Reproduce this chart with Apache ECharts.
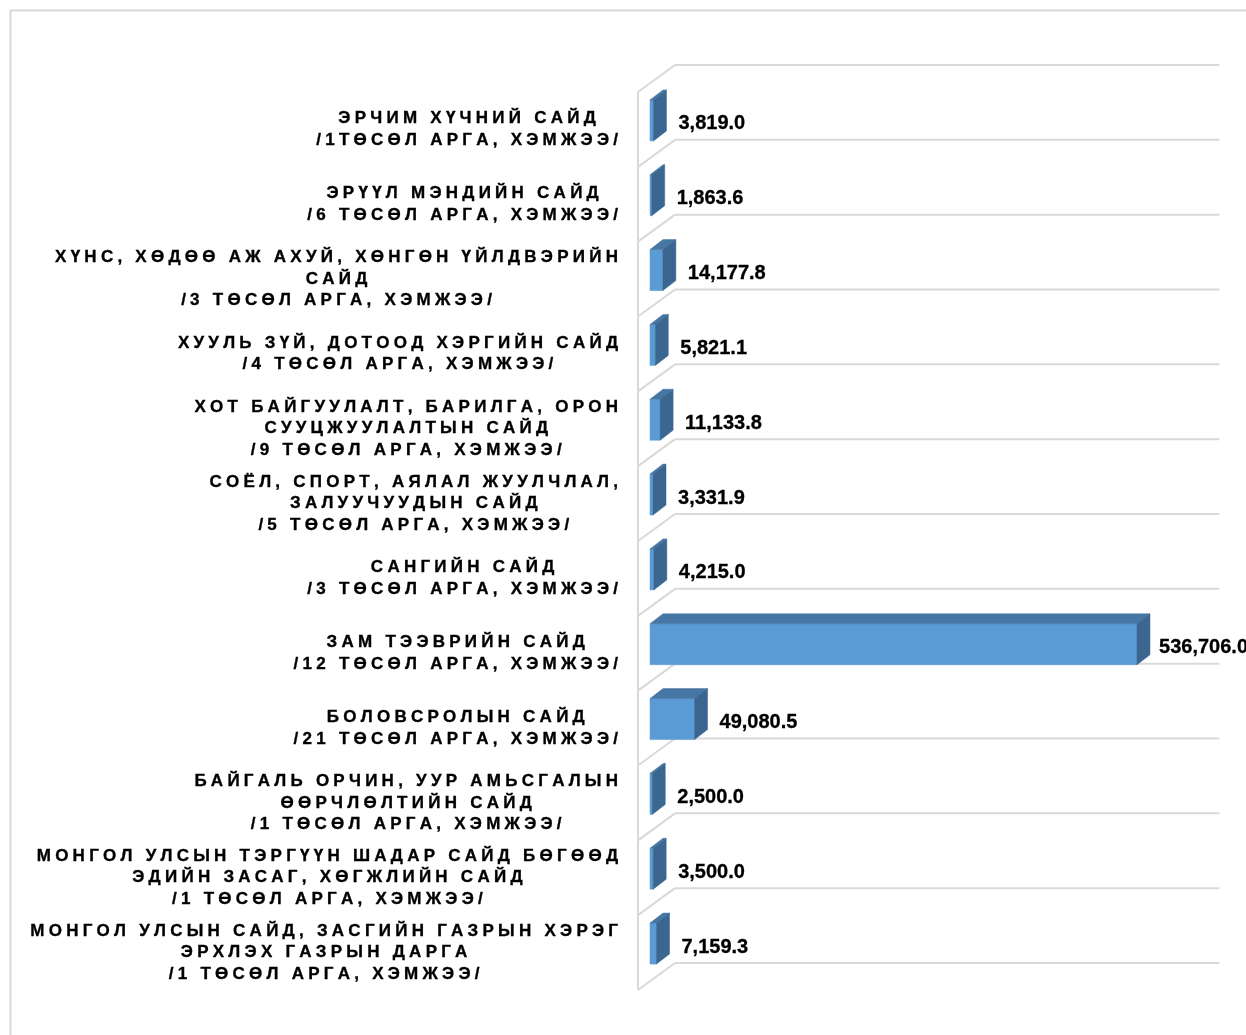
<!DOCTYPE html>
<html>
<head>
<meta charset="utf-8">
<script src="https://cdn.jsdelivr.net/npm/echarts@6/dist/echarts.min.js"></script>
<style>
html,body{margin:0;padding:0;background:#fff;}
#chart{width:1246px;height:1035px;}
</style>
</head>
<body>
<div id="chart"></div>
<script>
const categories = [
  "ЭРЧИМ ХҮЧНИЙ САЙД\n/1ТӨСӨЛ АРГА, ХЭМЖЭЭ/",
  "ЭРҮҮЛ МЭНДИЙН САЙД\n/6 ТӨСӨЛ АРГА, ХЭМЖЭЭ/",
  "ХҮНС, ХӨДӨӨ АЖ АХУЙ, ХӨНГӨН ҮЙЛДВЭРИЙН\nСАЙД\n/3 ТӨСӨЛ АРГА, ХЭМЖЭЭ/",
  "ХУУЛЬ ЗҮЙ, ДОТООД ХЭРГИЙН САЙД\n/4 ТӨСӨЛ АРГА, ХЭМЖЭЭ/",
  "ХОТ БАЙГУУЛАЛТ, БАРИЛГА, ОРОН\nСУУЦЖУУЛАЛТЫН САЙД\n/9 ТӨСӨЛ АРГА, ХЭМЖЭЭ/",
  "СОЁЛ, СПОРТ, АЯЛАЛ ЖУУЛЧЛАЛ,\nЗАЛУУЧУУДЫН САЙД\n/5 ТӨСӨЛ АРГА, ХЭМЖЭЭ/",
  "САНГИЙН САЙД\n/3 ТӨСӨЛ АРГА, ХЭМЖЭЭ/",
  "ЗАМ ТЭЭВРИЙН САЙД\n/12 ТӨСӨЛ АРГА, ХЭМЖЭЭ/",
  "БОЛОВСРОЛЫН САЙД\n/21 ТӨСӨЛ АРГА, ХЭМЖЭЭ/",
  "БАЙГАЛЬ ОРЧИН, УУР АМЬСГАЛЫН\nӨӨРЧЛӨЛТИЙН САЙД\n/1 ТӨСӨЛ АРГА, ХЭМЖЭЭ/",
  "МОНГОЛ УЛСЫН ТЭРГҮҮН ШАДАР САЙД БӨГӨӨД\nЭДИЙН ЗАСАГ, ХӨГЖЛИЙН САЙД\n/1 ТӨСӨЛ АРГА, ХЭМЖЭЭ/",
  "МОНГОЛ УЛСЫН САЙД, ЗАСГИЙН ГАЗРЫН ХЭРЭГ\nЭРХЛЭХ ГАЗРЫН ДАРГА\n/1 ТӨСӨЛ АРГА, ХЭМЖЭЭ/"
];
const values = [3819.0, 1863.6, 14177.8, 5821.1, 11133.8, 3331.9, 4215.0, 536706.0, 49080.5, 2500.0, 3500.0, 7159.3];
const axisMin = 0;
const axisMax = 600000;

// pseudo-3D geometry (pixels)
const WALL_DX = 37, WALL_DY = -27;
const BAR_OFF_X = 12, BAR_OFF_Y = -9;
const BAR_DX = 13, BAR_DY = -10;
const BAR_FRAC = 0.548;
const LS = 4.25; // letter spacing
const FONT = '"Liberation Sans", Arial, sans-serif';
const VALUE_FONT = 'bold 20px ' + FONT;

function fmt(v) {
  return v.toLocaleString('en-US', {minimumFractionDigits: 1, maximumFractionDigits: 1});
}

function spaced(label) {
  return label.split('\n').map(line => {
    const chars = Array.from(line);
    return chars.map((ch, k) => (k < chars.length - 1 ? '{a|' : '{b|') + ch + '}').join('');
  }).join('\n');
}

const measureCtx = document.createElement('canvas').getContext('2d');
function textWidth(t, font) { measureCtx.font = font; return measureCtx.measureText(t).width; }

const barData = values.map((v, i) => [v, i]);
const wallData = categories.map((c, i) => [0, i]);

const lineStyle = {stroke: '#d9d9d9', lineWidth: 2};

function renderWall(params, api) {
  const i = api.value(1);
  const p = api.coord([axisMin, i]);
  const pMax = api.coord([axisMax, i]);
  const band = api.size([0, 1])[1];
  const yTop = p[1] - band / 2, yBot = p[1] + band / 2;
  const xF = p[0];
  const children = [
    {type: 'line', shape: {x1: xF, y1: yTop, x2: xF, y2: yBot}, style: lineStyle},
    {type: 'line', shape: {x1: xF, y1: yTop, x2: xF + WALL_DX, y2: yTop + WALL_DY}, style: lineStyle},
    {type: 'line', shape: {x1: xF + WALL_DX, y1: yTop + WALL_DY, x2: pMax[0] + WALL_DX, y2: yTop + WALL_DY}, style: lineStyle}
  ];
  if (i === categories.length - 1) {
    children.push({type: 'line', shape: {x1: xF, y1: yBot, x2: xF + WALL_DX, y2: yBot + WALL_DY}, style: lineStyle});
    children.push({type: 'line', shape: {x1: xF + WALL_DX, y1: yBot + WALL_DY, x2: pMax[0] + WALL_DX, y2: yBot + WALL_DY}, style: lineStyle});
  }
  return {type: 'group', children};
}

function renderBar(params, api) {
  const v = api.value(0), i = api.value(1);
  const p0 = api.coord([axisMin, i]);
  const p1 = api.coord([v, i]);
  const band = api.size([0, 1])[1];
  const h = band * BAR_FRAC;
  const x0 = p0[0] + BAR_OFF_X, x1 = p1[0] + BAR_OFF_X;
  const yc = p0[1] + BAR_OFF_Y;
  const top = yc - h / 2, bot = yc + h / 2;
  const label = fmt(v);
  const w = textWidth(label, VALUE_FONT);
  const lx = Math.max(x1 + BAR_DX + 7, Math.min(x1 + 25, api.getWidth() - w + 2));
  return {
    type: 'group',
    children: [
      {type: 'rect', shape: {x: x0, y: top, width: x1 - x0, height: h},
        style: {fill: '#5b9bd5', stroke: '#5b9bd5', lineWidth: 0.5}},
      {type: 'polygon', shape: {points: [[x0, top], [x0 + BAR_DX, top + BAR_DY], [x1 + BAR_DX, top + BAR_DY], [x1, top]]},
        style: {fill: '#4676a4', stroke: '#4676a4', lineWidth: 0.5}},
      {type: 'polygon', shape: {points: [[x1, top], [x1 + BAR_DX, top + BAR_DY], [x1 + BAR_DX, bot + BAR_DY], [x1, bot]]},
        style: {fill: '#3b6690', stroke: '#3b6690', lineWidth: 0.5}},
      {type: 'text', x: lx, y: yc + 3.5,
        style: {text: label, fill: '#000', font: VALUE_FONT, align: 'left', verticalAlign: 'middle',
          stroke: '#000', lineWidth: 0.3}}
    ]
  };
}

const richBase = {fontFamily: FONT, fontSize: 17, fontWeight: 'bold', color: '#000', align: 'center', lineHeight: 21.5,
  textBorderColor: '#000', textBorderWidth: 0.35};

const chart = echarts.init(document.getElementById('chart'), null, {renderer: 'canvas'});
chart.setOption({
  backgroundColor: '#ffffff',
  animation: false,
  graphic: [
    {type: 'rect', left: 8, top: 8, shape: {width: 1260, height: 1060},
      style: {fill: 'none', stroke: '#d9d9d9', lineWidth: 2}, silent: true}
  ],
  grid: {left: 638, top: 92, width: 544.4, height: 898, outerBoundsMode: 'none', containLabel: false},
  xAxis: {type: 'value', min: axisMin, max: axisMax, show: false, splitLine: {show: false}},
  yAxis: {
    type: 'category', data: categories, inverse: true,
    axisLine: {show: false}, axisTick: {show: false}, splitLine: {show: false},
    axisLabel: {
      interval: 0, margin: 20, hideOverlap: false,
      formatter: spaced,
      rich: {
        a: Object.assign({}, richBase, {padding: [0, LS, 0, 0]}),
        b: Object.assign({}, richBase)
      }
    }
  },
  series: [
    {type: 'custom', name: 'walls', renderItem: renderWall, data: wallData, encode: {x: 0, y: 1}, z: 1, silent: true, clip: false},
    {type: 'custom', name: 'bars', renderItem: renderBar, data: barData, encode: {x: 0, y: 1}, z: 2, clip: false}
  ]
});
</script>
</body>
</html>
